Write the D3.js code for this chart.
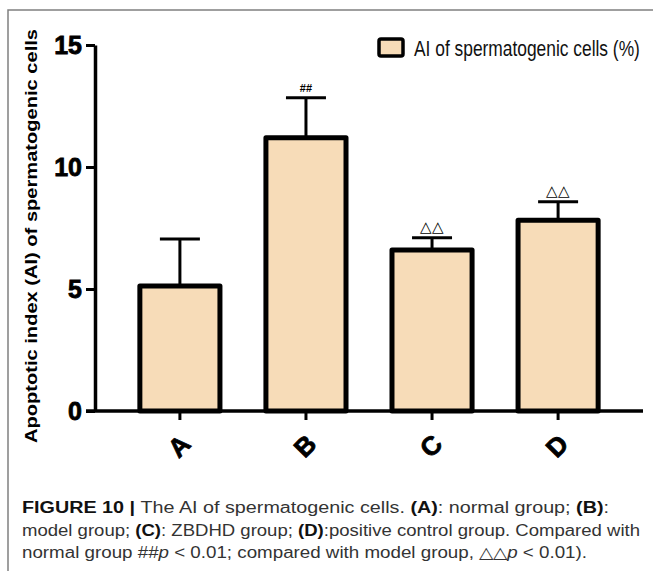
<!DOCTYPE html>
<html lang="en">
<head>
<meta charset="UTF-8">
<title>AI of spermatogenic cells</title>
<style>
  html, body { margin: 0; padding: 0; background: #fff; }
  svg text { font-family: "Liberation Sans", Arial, sans-serif; }
</style>
</head>
<body>
<div id="chart"></div>
<script src="https://d3js.org/d3.v7.min.js"></script>
<script>
// data
const groups = ["A", "B", "C", "D"];
const means = [5.12, 11.2, 6.6, 7.82];
const errors = [1.93, 1.64, 0.5, 0.76];
const marks = ["", "##", "\u25B3\u25B3", "\u25B3\u25B3"];
const yTicks = [0, 5, 10, 15];
const legendLabel = "AI of spermatogenic cells (%)";
const yTitle = "Apoptotic index (AI) of spermatogenic cells";

const W = 653, H = 571;
const fill = "#f7dcb8";

const svg = d3.select("#chart").append("svg")
    .attr("width", W).attr("height", H);

// frame around the figure
svg.append("path")
    .attr("d", `M8,${H} L8,10 L${W},10`)
    .attr("fill", "none").attr("stroke", "#808080").attr("stroke-width", 1.5);

const y = d3.scaleLinear().domain([0, 15]).range([411, 45]);
const x = d3.scaleBand().domain(groups).range([95, 643])
    .paddingInner(0.333).paddingOuter(0.34);

const data = groups.map((g, i) => ({ g, m: means[i], e: errors[i], mark: marks[i] }));

// error bars (drawn first so bar top covers stem)
const eb = svg.append("g").attr("stroke", "#000").attr("stroke-width", 3);
eb.selectAll("line.stem").data(data).join("line")
    .attr("x1", d => x(d.g) + x.bandwidth() / 2)
    .attr("x2", d => x(d.g) + x.bandwidth() / 2)
    .attr("y1", d => y(d.m)).attr("y2", d => y(d.m + d.e));
eb.selectAll("line.cap").data(data).join("line")
    .attr("x1", d => x(d.g) + x.bandwidth() / 2 - 20)
    .attr("x2", d => x(d.g) + x.bandwidth() / 2 + 20)
    .attr("y1", d => y(d.m + d.e)).attr("y2", d => y(d.m + d.e));

// bars
svg.append("g").selectAll("rect").data(data).join("rect")
    .attr("x", d => x(d.g) + 2)
    .attr("width", x.bandwidth() - 4)
    .attr("y", d => y(d.m))
    .attr("height", d => y(0) - y(d.m))
    .attr("fill", fill)
    .attr("stroke", "#000").attr("stroke-width", 5)
    .attr("stroke-linejoin", "round");

// significance marks
svg.append("g").selectAll("text").data(data).join("text")
    .attr("x", d => x(d.g) + x.bandwidth() / 2)
    .attr("y", d => y(d.m + d.e) - 6)
    .attr("text-anchor", "middle")
    .attr("font-family", "DejaVu Sans, sans-serif")
    .attr("font-size", d => d.mark === "##" ? 11 : 15)
    .attr("font-weight", d => d.mark === "##" ? "bold" : "normal")
    .text(d => d.mark);

// y axis
const yAxis = svg.append("g")
    .attr("transform", "translate(95,0)")
    .call(d3.axisLeft(y).tickValues(yTicks).tickSize(9).tickSizeOuter(0).tickPadding(4));
yAxis.select(".domain").attr("stroke-width", 3.5);
yAxis.selectAll(".tick line").attr("stroke-width", 3);
yAxis.selectAll(".tick text")
    .attr("font-size", 25).attr("font-weight", "bold").attr("fill", "#000")
    .attr("stroke", "#000").attr("stroke-width", 0.8)
    .style("font-family", "Liberation Sans, Arial, sans-serif");

// x axis
const xAxis = svg.append("g")
    .attr("transform", "translate(0,411)")
    .call(d3.axisBottom(x).tickSize(9).tickSizeOuter(0).tickPadding(0));
xAxis.select(".domain").attr("stroke-width", 3.5).attr("d", "M86,0H643");
xAxis.selectAll(".tick line").attr("stroke-width", 3);
xAxis.selectAll(".tick text")
    .attr("font-size", 26).attr("font-weight", "bold").attr("fill", "#000")
    .attr("stroke", "#000").attr("stroke-width", 0.8)
    .style("font-family", "Liberation Sans, Arial, sans-serif")
    .attr("text-anchor", "middle")
    .attr("dy", null)
    .attr("transform", "translate(-1,35) rotate(-45)")
    .attr("y", 0).attr("dominant-baseline", "central");

// y title
svg.append("text")
    .attr("transform", "translate(37,236) rotate(-90)")
    .attr("text-anchor", "middle")
    .attr("font-size", 17).attr("font-weight", "bold")
    .attr("textLength", 414).attr("lengthAdjust", "spacingAndGlyphs")
    .text(yTitle);

// legend
const lg = svg.append("g");
lg.append("rect").attr("x", 379).attr("y", 39).attr("width", 24).attr("height", 17)
    .attr("rx", 2)
    .attr("fill", fill).attr("stroke", "#000").attr("stroke-width", 3.5);
const lt = lg.append("text")
    .attr("font-size", 22)
    .attr("fill", "#111")
    .text(legendLabel);
const lw = lt.node().getComputedTextLength();
lt.attr("transform", `translate(414,56) scale(${226 / lw},1)`);

// caption
const caption = [
  [["FIGURE 10 | ", "b"], ["The AI of spermatogenic cells. ", ""], ["(A)", "b"], [": normal group; ", ""], ["(B)", "b"], [":", ""]],
  [["model group; ", ""], ["(C)", "b"], [": ZBDHD group; ", ""], ["(D)", "b"], [":positive control group. Compared with", ""]],
  [["normal group ##", ""], ["p", "i"], [" < 0.01; compared with model group, \u25B3\u25B3", ""], ["p", "i"], [" < 0.01).", ""]]
];
const capLen = [587, 618, 565];
const cap = svg.append("g").attr("fill", "#333");
caption.forEach((line, i) => {
  const t = cap.append("text").attr("x", 22).attr("y", 513 + i * 22.5)
      .attr("font-size", 16)
      .attr("textLength", capLen[i]).attr("lengthAdjust", "spacingAndGlyphs");
  line.forEach(([s, st]) => {
    t.append("tspan").text(s)
      .attr("font-weight", st === "b" ? "bold" : null)
      .attr("font-style", st === "i" ? "italic" : null)
      .attr("fill", st === "b" ? "#111" : null);
  });
});
</script>
</body>
</html>
